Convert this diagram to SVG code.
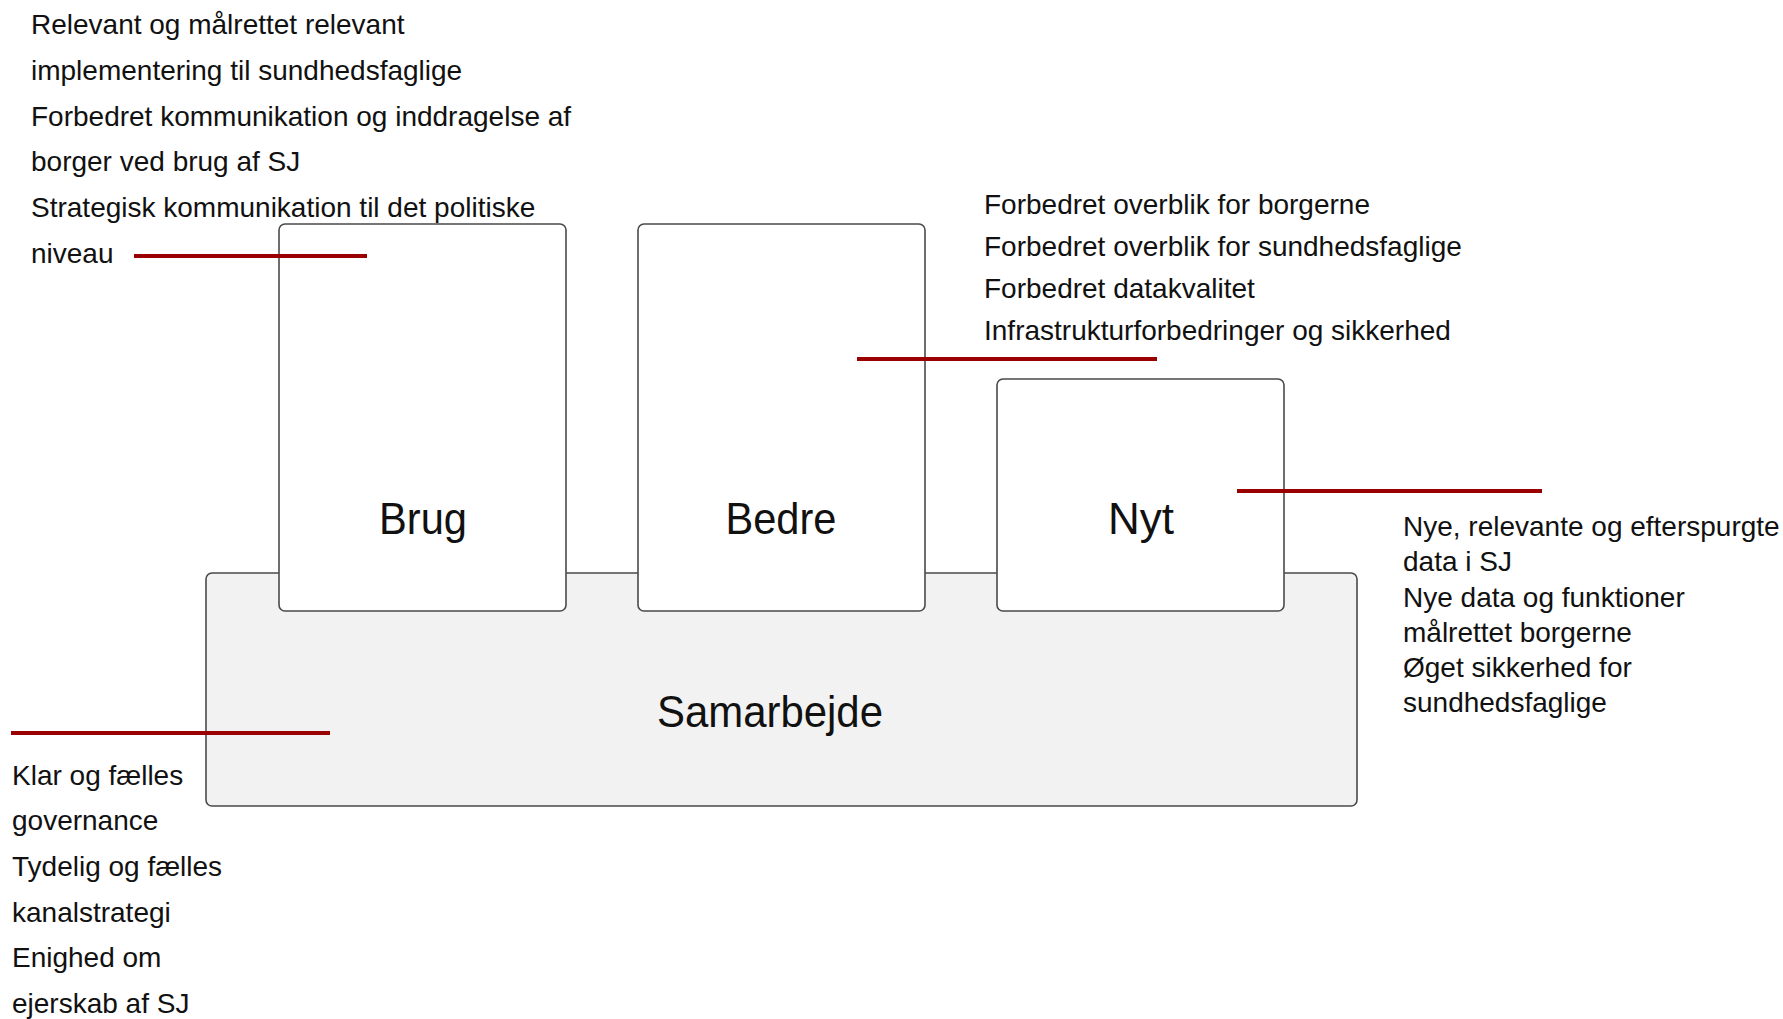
<svg xmlns="http://www.w3.org/2000/svg" width="1783" height="1019" viewBox="0 0 1783 1019">
<style>
.box{fill:#ffffff;stroke:#4a4a4a;stroke-width:1.6}
.base{fill:#f2f2f2;stroke:#4a4a4a;stroke-width:1.6}
.lbl{font-family:"Liberation Sans",Arial,sans-serif;font-size:45px;fill:#111;text-anchor:middle}
.txt{font-family:"Liberation Sans",Arial,sans-serif;font-size:28px;fill:#111}
.con{stroke:#9b0000;stroke-width:4;fill:none}
</style>
<rect width="1783" height="1019" fill="#ffffff"/>
<g id="node-samarbejde">
<rect class="base" x="206" y="573" width="1151" height="233" rx="6"/>
<text class="lbl" x="770" y="727" textLength="226" lengthAdjust="spacingAndGlyphs">Samarbejde</text>
</g>
<g id="node-brug">
<rect class="box" x="279" y="224" width="287" height="387" rx="6"/>
<text class="lbl" x="423" y="534" textLength="88" lengthAdjust="spacingAndGlyphs">Brug</text>
</g>
<g id="node-bedre">
<rect class="box" x="638" y="224" width="287" height="387" rx="6"/>
<text class="lbl" x="781" y="534" textLength="111" lengthAdjust="spacingAndGlyphs">Bedre</text>
</g>
<g id="node-nyt">
<rect class="box" x="997" y="379" width="287" height="232" rx="6"/>
<text class="lbl" x="1141" y="534" textLength="66" lengthAdjust="spacingAndGlyphs">Nyt</text>
</g>
<g id="connectors">
<line class="con" x1="134" y1="256" x2="367" y2="256"/>
<line class="con" x1="857" y1="359" x2="1157" y2="359"/>
<line class="con" x1="1237" y1="491" x2="1542" y2="491"/>
<line class="con" x1="11" y1="733" x2="330" y2="733"/>
</g>
<g id="text-brug">
<text class="txt" x="31" y="34">Relevant og målrettet relevant</text>
<text class="txt" x="31" y="80">implementering til sundhedsfaglige</text>
<text class="txt" x="31" y="126">Forbedret kommunikation og inddragelse af</text>
<text class="txt" x="31" y="171">borger ved brug af SJ</text>
<text class="txt" x="31" y="217">Strategisk kommunikation til det politiske</text>
<text class="txt" x="31" y="263">niveau</text>
</g>
<g id="text-bedre">
<text class="txt" x="984" y="214">Forbedret overblik for borgerne</text>
<text class="txt" x="984" y="256">Forbedret overblik for sundhedsfaglige</text>
<text class="txt" x="984" y="298">Forbedret datakvalitet</text>
<text class="txt" x="984" y="340">Infrastrukturforbedringer og sikkerhed</text>
</g>
<g id="text-nyt">
<text class="txt" x="1403" y="536">Nye, relevante og efterspurgte</text>
<text class="txt" x="1403" y="571">data i SJ</text>
<text class="txt" x="1403" y="607">Nye data og funktioner</text>
<text class="txt" x="1403" y="642">målrettet borgerne</text>
<text class="txt" x="1403" y="677">Øget sikkerhed for</text>
<text class="txt" x="1403" y="712">sundhedsfaglige</text>
</g>
<g id="text-samarbejde">
<text class="txt" x="12" y="785">Klar og fælles</text>
<text class="txt" x="12" y="830">governance</text>
<text class="txt" x="12" y="876">Tydelig og fælles</text>
<text class="txt" x="12" y="922">kanalstrategi</text>
<text class="txt" x="12" y="967">Enighed om</text>
<text class="txt" x="12" y="1013">ejerskab af SJ</text>
</g>
</svg>
